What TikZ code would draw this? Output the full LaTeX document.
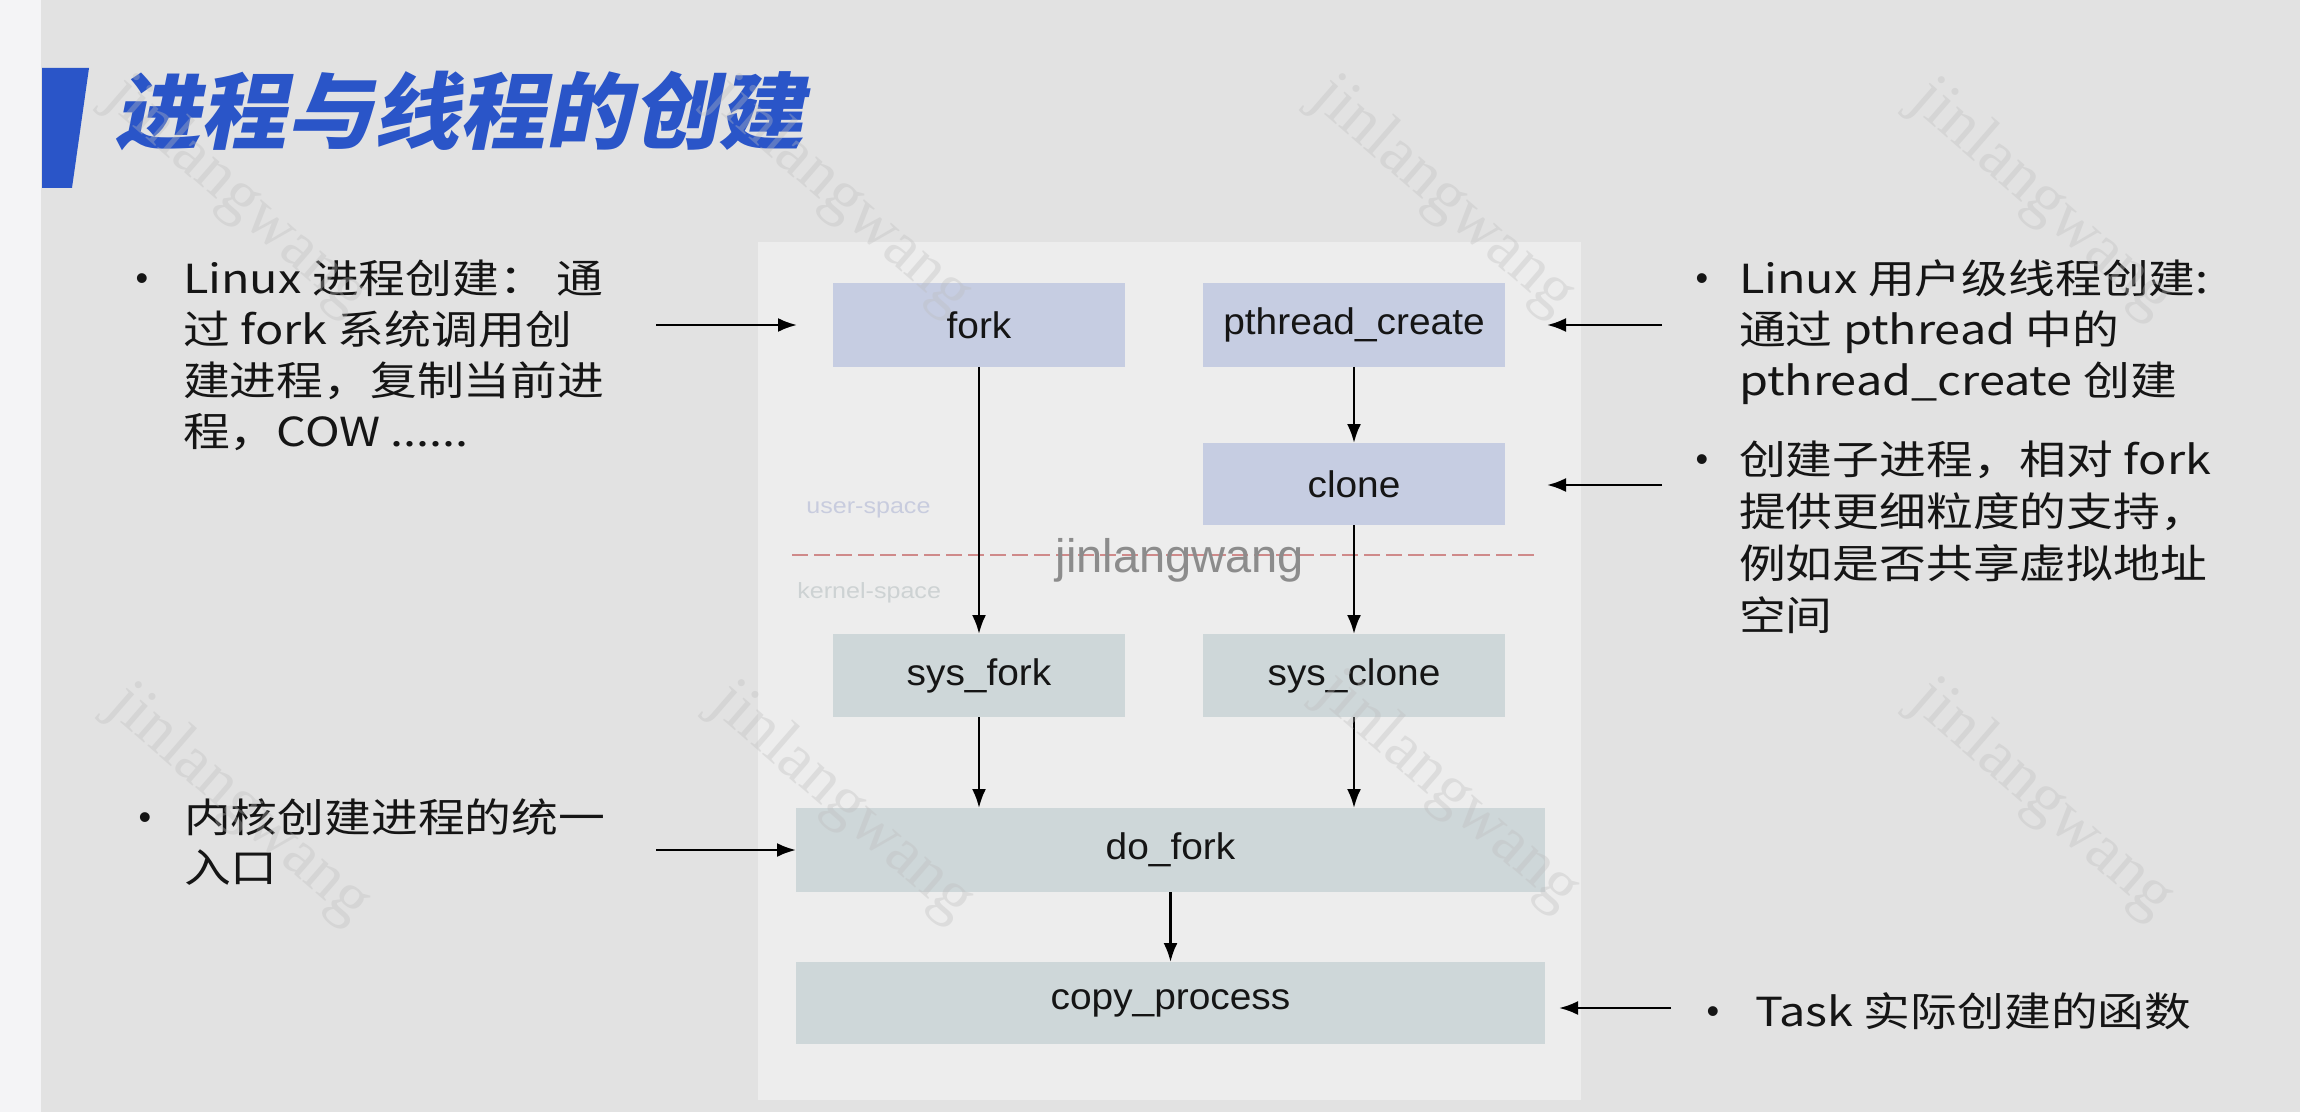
\documentclass[tikz,border=0pt]{standalone}
\usepackage{fontspec}
\usetikzlibrary{arrows.meta}
\newfontfamily\cjkfont[FakeStretch=1.17]{Noto Sans CJK SC}
\newfontfamily\titlefont[FakeStretch=1.04,FakeSlant=0.2]{Noto Sans CJK SC}
\newfontfamily\boxfont[FakeStretch=1.05]{Liberation Sans}
\newfontfamily\smallfont[FakeStretch=1.14]{Liberation Sans}
\newfontfamily\wmfont{Liberation Sans}
\newfontfamily\wmserif{Liberation Serif}
\newfontfamily\bulletfont{Liberation Sans}
\definecolor{bg}{HTML}{E2E2E2}
\definecolor{strip}{HTML}{F4F4F6}
\definecolor{panel}{HTML}{EDEDED}
\definecolor{bluebox}{HTML}{C6CDE2}
\definecolor{graybox}{HTML}{CED7D9}
\definecolor{titleblue}{HTML}{2A55C8}
\definecolor{dashred}{HTML}{CF8A8A}
\definecolor{txt}{HTML}{151515}
\definecolor{wmgray}{HTML}{8C8C8C}
\definecolor{userc}{HTML}{C8CCDE}
\definecolor{kernc}{HTML}{CDD2D3}
\definecolor{wmdiag}{HTML}{BDBDBD}
\tikzset{
  fnbox/.style={inner sep=0pt, outer sep=0pt, text=txt, font=\boxfont\fontsize{18.5}{22}\selectfont},
  ub/.style={fnbox, fill=bluebox},
  kb/.style={fnbox, fill=graybox},
  arr/.style={draw=black, line width=1.25pt, -{Latex[length=9.5pt,width=7pt]}},
  body/.style={inner sep=0pt, outer sep=0pt, anchor=base west, text=txt, font=\cjkfont\fontsize{20}{25.5}\selectfont},
  bul/.style={inner sep=0pt, outer sep=0pt, anchor=base, text=txt, font=\bulletfont\fontsize{18}{20}\selectfont},
  wmd/.style={inner sep=0pt, rotate=-41, text=wmdiag, opacity=0.35, font=\wmserif\fontsize{33}{36}\selectfont}
}
\begin{document}
\begin{tikzpicture}[x=0.5pt,y=-0.5pt]
\useasboundingbox (0,0) rectangle (2300,1112);
\fill[bg] (0,0) rectangle (2300,1112);
\fill[strip] (0,0) rectangle (41,1112);
% title
\fill[titleblue] (42,68) -- (89,68) -- (72,188) -- (42,188) -- cycle;
\node[anchor=base west, inner sep=0pt, text=titleblue, font=\titlefont\bfseries\fontsize{41.5}{48}\selectfont] (title) at (114,143) {进程与线程的创建};
% panel
\fill[panel] (758,242) rectangle (1581,1100);
% boxes
\node[ub, minimum width=146pt, minimum height=42pt] (fork) at (979,325) {fork};
\node[ub, minimum width=151pt, minimum height=42pt] (pthread) at (1354,325) {pthread\_create};
\node[ub, minimum width=151pt, minimum height=41pt] (clone) at (1354,484) {clone};
\node[kb, minimum width=146pt, minimum height=41.5pt] (sysfork) at (979,675.5) {sys\_fork};
\node[kb, minimum width=151pt, minimum height=41.5pt] (sysclone) at (1354,675.5) {sys\_clone};
\node[kb, minimum width=374.5pt, minimum height=42pt] (dofork) at (1170.5,850) {do\_fork};
\node[kb, minimum width=374.5pt, minimum height=41pt] (copy) at (1170.5,1003) {copy\_process};
% user / kernel space
\coordinate (dl) at (792,555);
\coordinate (dr) at (1536,555);
\draw[dashred, line width=1pt, dash pattern=on 8pt off 3pt] (dl) -- (dr);
\node[anchor=base west, inner sep=0pt, text=userc, font=\smallfont\fontsize{11}{13}\selectfont] (us) at (806,513) {user-space};
\node[anchor=base west, inner sep=0pt, text=kernc, font=\smallfont\fontsize{11}{13}\selectfont] (ks) at (797,598) {kernel-space};
% arrows between boxes
\draw[arr] (fork.south) -- (sysfork.north);
\draw[arr] (pthread.south) -- (clone.north);
\draw[arr] (clone.south) -- (sysclone.north);
\draw[arr] (sysfork.south) -- (sysfork.south |- dofork.north);
\draw[arr] (sysclone.south) -- (sysclone.south |- dofork.north);
\draw[arr] (dofork.south) -- (copy.north);
% side texts
\node[bul] (b1) at (142,291) {•};
\node[body] (t1) at (183,294) {\begin{tabular}[t]{@{}l@{}}Linux 进程创建： 通\\过 fork 系统调用创\\建进程，复制当前进\\程，COW ......\end{tabular}};
\node[bul] (b2) at (1702,291) {•};
\node[body] (t2) at (1739,294) {\begin{tabular}[t]{@{}l@{}}Linux 用户级线程创建:\\通过 pthread 中的\\pthread\_create 创建\end{tabular}};
\node[bul] (b3) at (1702,471) {•};
\node[body, font=\cjkfont\fontsize{20}{26}\selectfont] (t3) at (1739,474) {\begin{tabular}[t]{@{}l@{}}创建子进程，相对 fork\\提供更细粒度的支持，\\例如是否共享虚拟地址\\空间\end{tabular}};
\node[bul] (b4) at (145,829) {•};
\node[body, font=\cjkfont\fontsize{20}{25}\selectfont] (t4) at (184,832) {\begin{tabular}[t]{@{}l@{}}内核创建进程的统一\\入口\end{tabular}};
\node[bul] (b5) at (1713,1023) {•};
\node[body] (t5) at (1755,1026) {Task 实际创建的函数};
% arrows from side texts
\coordinate (s1) at (656,325);
\coordinate (s2) at (1662,325);
\coordinate (s3) at (1662,485);
\coordinate (s4) at (656,850);
\coordinate (s5) at (1671,1008);
\draw[arr, shorten >=18pt] (s1) -- (s1 -| fork.west);
\draw[arr, shorten >=21pt] (s2) -- (s2 -| pthread.east);
\draw[arr, shorten >=21pt] (s3) -- (s3 -| clone.east);
\draw[arr] (s4) -- (s4 -| dofork.west);
\draw[arr, shorten >=7pt] (s5) -- (s5 -| copy.east);
% watermarks
\node[anchor=base, inner sep=0pt, text=wmgray, font=\wmfont\fontsize{23.5}{26}\selectfont] (wm) at (1180,572) {jinlangwang};
\node[wmd] (w1) at (237,197) {jinlangwang};
\node[wmd] (w2) at (840,197) {jinlangwang};
\node[wmd] (w3) at (1443,197) {jinlangwang};
\node[wmd] (w4) at (2042,200) {jinlangwang};
\node[wmd] (w5) at (239,805) {jinlangwang};
\node[wmd] (w6) at (842,803) {jinlangwang};
\node[wmd] (w7) at (1448,792) {jinlangwang};
\node[wmd] (w8) at (2042,800) {jinlangwang};
\end{tikzpicture}
\end{document}
